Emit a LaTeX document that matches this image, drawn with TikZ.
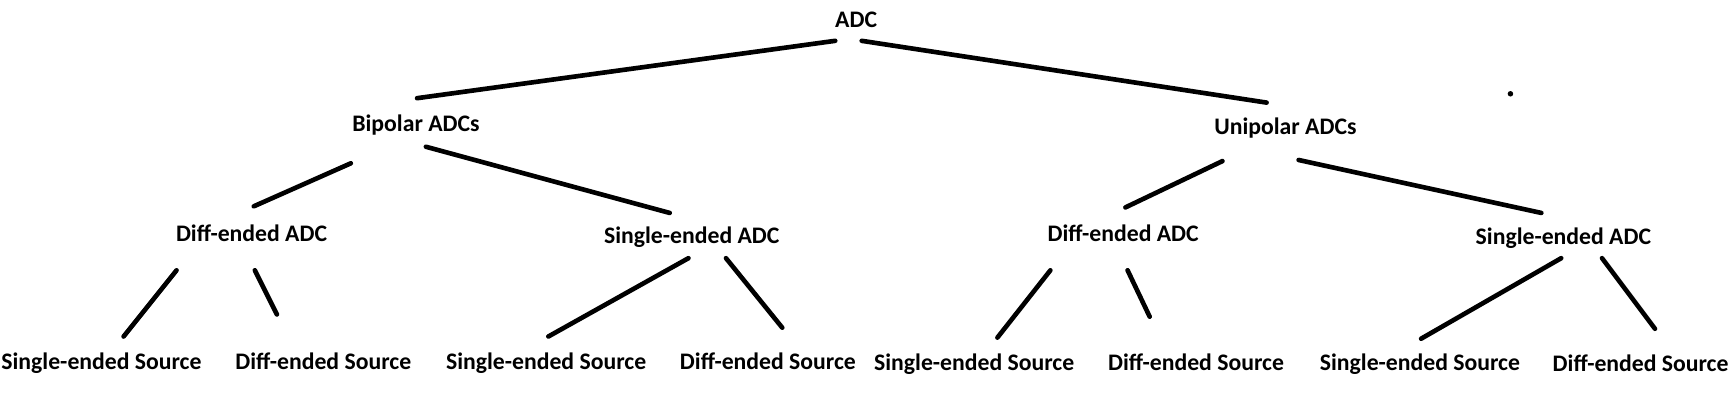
\documentclass[tikz,border=0pt]{standalone}
\usepackage{fontspec}
\setmainfont{Carlito}
\begin{document}
\begin{tikzpicture}[x=1pt,y=-1pt,
  lbl/.style={font=\fontsize{21.5}{25}\selectfont\bfseries, inner sep=0pt, anchor=base},
  conn/.style={line width=4.2pt, line cap=round}]
\useasboundingbox[fill=white] (0,0) rectangle (1568,372);
% nodes
\node[lbl] (adc) at (776,25) {ADC};
\node[lbl] (bip) at (377,119) {Bipolar ADCs};
\node[lbl] (uni) at (1165,122) {Unipolar ADCs};
\node[lbl] (bd) at (228,219) {Diff-ended ADC};
\node[lbl] (bs) at (627,221) {Single-ended ADC};
\node[lbl] (ud) at (1018,219) {Diff-ended ADC};
\node[lbl] (us) at (1417,222) {Single-ended ADC};
\node[lbl] (s1) at (92,335) {Single-ended Source};
\node[lbl] (s2) at (293,335) {Diff-ended Source};
\node[lbl] (s3) at (495,335) {Single-ended Source};
\node[lbl] (s4) at (696,335) {Diff-ended Source};
\node[lbl] (s5) at (883,336) {Single-ended Source};
\node[lbl] (s6) at (1084,336) {Diff-ended Source};
\node[lbl] (s7) at (1287,336) {Single-ended Source};
\node[lbl] (s8) at (1487,337) {Diff-ended Source};
% connectors
\draw[conn] ([shift={(-19,12)}]adc.base) -- ([shift={(1,-30)}]bip.base);
\draw[conn] ([shift={(5,12)}]adc.base) -- ([shift={(-17,-29)}]uni.base);
\draw[conn] ([shift={(-59,29)}]bip.base) -- ([shift={(2,-32)}]bd.base);
\draw[conn] ([shift={(9,14)}]bip.base) -- ([shift={(-20,-28)}]bs.base);
\draw[conn] ([shift={(-57,24)}]uni.base) -- ([shift={(2,-31)}]ud.base);
\draw[conn] ([shift={(12,23)}]uni.base) -- ([shift={(-20,-29)}]us.base);
\draw[conn] ([shift={(-68,26)}]bd.base) -- ([shift={(20,-30)}]s1.base);
\draw[conn] ([shift={(3,26)}]bd.base) -- ([shift={(-42,-50)}]s2.base);
\draw[conn] ([shift={(-3,13)}]bs.base) -- ([shift={(2,-30)}]s3.base);
\draw[conn] ([shift={(31,13)}]bs.base) -- ([shift={(13,-38)}]s4.base);
\draw[conn] ([shift={(-66,26)}]ud.base) -- ([shift={(21,-30)}]s5.base);
\draw[conn] ([shift={(4,26)}]ud.base) -- ([shift={(-42,-49)}]s6.base);
\draw[conn] ([shift={(-2,12)}]us.base) -- ([shift={(1,-29)}]s7.base);
\draw[conn] ([shift={(35,12)}]us.base) -- ([shift={(13,-39)}]s8.base);
\fill (1369,85) circle (2.5);
\end{tikzpicture}
\end{document}
